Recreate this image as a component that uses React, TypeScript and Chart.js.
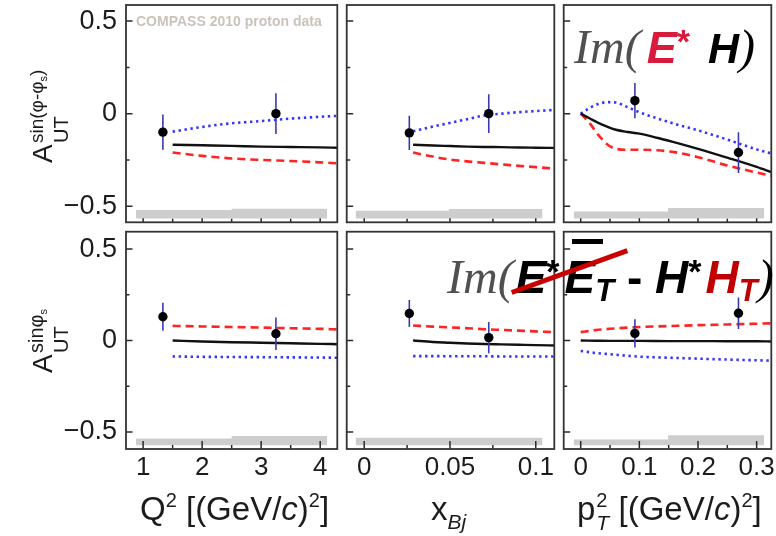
import React, { useEffect, useRef } from 'react';
import { Chart, registerables } from 'chart.js';

Chart.register(...registerables);

const FONT = '"Liberation Sans", Arial, Helvetica, sans-serif';
const SERIF = '"Liberation Serif", "Times New Roman", serif';

// ---------- axis ranges & ticks ----------
const qRange = [0.71, 4.29];
const xRange = [-0.0102, 0.1108];
const pRange = [-0.029, 0.325];
const yRangeTop = [-0.587, 0.587];
const yRangeBottom = [-0.593, 0.595];

const qTicks = [1, 2, 3, 4];
const qTickLabels = ['1', '2', '3', '4'];
const qMinor = [1.5, 2.5, 3.5];
const xTicks = [0, 0.05, 0.1];
const xTickLabels = ['0', '0.05', '0.1'];
const xMinor = [0.025, 0.075];
const pTicks = [0, 0.1, 0.2, 0.3];
const pTickLabels = ['0', '0.1', '0.2', '0.3'];
const pMinor = [0.05, 0.15, 0.25];
const yTicks = [-0.5, 0, 0.5];
const yTickLabels = ['\u22120.5', '0', '0.5'];
const yMinor = [-0.25, 0.25];

// ---------- data points (COMPASS 2010 proton) ----------
const qPts = [1.335, 3.25];
const xPts = [0.0263, 0.0726];
const pPts = [0.0924, 0.269];

// A_UT^{sin(phi-phi_s)}
const topQY = [-0.10, 0.0];
const topQErr = [0.095, 0.11];
const topXY = [-0.104, 0.0];
const topXErr = [0.093, 0.105];
const topPY = [0.07, -0.21];
const topPErr = [0.095, 0.11];

// A_UT^{sin phi_s}
const botQY = [0.13, 0.037];
const botQErr = [0.076, 0.089];
const botXY = [0.148, 0.016];
const botXErr = [0.074, 0.085];
const botPY = [0.039, 0.149];
const botPErr = [0.077, 0.086];

// ---------- model curves ----------
const qCurveX = [1.5, 2.0, 2.5, 3.0, 3.5, 4.0, 4.29];
const topQBlack = [-0.168, -0.171, -0.174, -0.178, -0.18, -0.182, -0.184];
const topQRed = [-0.21, -0.228, -0.242, -0.25, -0.256, -0.263, -0.268];
const topQBlue = [-0.097, -0.072, -0.052, -0.04, -0.027, -0.017, -0.012];
const botQBlack = [0.0, -0.005, -0.009, -0.012, -0.015, -0.018, -0.02];
const botQRed = [0.08, 0.077, 0.074, 0.071, 0.067, 0.064, 0.061];
const botQBlue = [-0.087, -0.089, -0.09, -0.091, -0.092, -0.093, -0.094];

const xCurveX = [0.0285, 0.04, 0.05, 0.06, 0.07, 0.08, 0.09, 0.1, 0.1108];
const topXBlack = [-0.168, -0.172, -0.175, -0.178, -0.18, -0.181, -0.183, -0.184, -0.185];
const topXRed = [-0.21, -0.232, -0.248, -0.258, -0.266, -0.274, -0.282, -0.289, -0.297];
const topXBlue = [-0.095, -0.07, -0.05, -0.03, -0.01, 0.0, 0.008, 0.014, 0.02];
const botXBlack = [0.0, -0.008, -0.012, -0.016, -0.019, -0.021, -0.023, -0.025, -0.027];
const botXRed = [0.082, 0.076, 0.072, 0.067, 0.062, 0.058, 0.054, 0.05, 0.046];
const botXBlue = [-0.085, -0.085, -0.086, -0.086, -0.086, -0.087, -0.087, -0.087, -0.087];

const pCurveXTop = [0, 0.015, 0.03, 0.045, 0.06, 0.08, 0.1, 0.13, 0.16, 0.2, 0.25, 0.3, 0.325];
const topPBlack = [0, -0.025, -0.05, -0.07, -0.087, -0.099, -0.108, -0.13, -0.155, -0.19, -0.238, -0.288, -0.316];
const topPRed = [0, -0.05, -0.115, -0.165, -0.19, -0.195, -0.195, -0.198, -0.208, -0.235, -0.28, -0.318, -0.335];
const topPBlue = [0, 0.03, 0.052, 0.062, 0.06, 0.035, 0.008, -0.025, -0.055, -0.09, -0.14, -0.193, -0.215];
const pCurveXBot = [0, 0.025, 0.05, 0.1, 0.15, 0.2, 0.25, 0.3, 0.325];
const botPBlack = [0, -0.001, -0.002, -0.002, -0.003, -0.003, -0.004, -0.004, -0.005];
const botPRed = [0.046, 0.057, 0.064, 0.074, 0.079, 0.084, 0.088, 0.092, 0.094];
const botPBlue = [-0.057, -0.068, -0.075, -0.088, -0.094, -0.099, -0.104, -0.108, -0.11];

// ---------- systematic bands ----------
const qBandEdges = [0.876, 2.5, 4.12];
const xBandEdges = [-0.005, 0.0494, 0.1039];
const pBandEdges = [-0.012, 0.149, 0.313];
const qBandTopT = [-0.52, -0.514];
const xBandTopT = [-0.524, -0.515];
const pBandTopT = [-0.529, -0.51];
const qBandTopB = [-0.535, -0.522];
const xBandTopB = [-0.531, -0.531];
const pBandTopB = [-0.541, -0.518];
const bandFloorTop = -0.566;
const bandFloorBot = -0.572;

type Cfg = any;

const panels: Cfg[] = [
  { left: 0, top: 0, w: 342, h: 227, pad: { left: 0, top: 5, right: 0, bottom: 0 }, showY: true, showX: false,
    xr: qRange, yr: yRangeTop, xT: qTicks, xL: qTickLabels, xM: qMinor,
    cx: qCurveX, black: topQBlack, red: topQRed, blue: topQBlue, px: qPts, py: topQY, pe: topQErr,
    be: qBandEdges, bt: qBandTopT, bf: bandFloorTop, tMaj: 4, tMin: 3.5 },
  { left: 342, top: 0, w: 217, h: 227, pad: { left: 0, top: 5, right: 0, bottom: 0 }, showY: false, showX: false,
    xr: xRange, yr: yRangeTop, xT: xTicks, xL: xTickLabels, xM: xMinor,
    cx: xCurveX, black: topXBlack, red: topXRed, blue: topXBlue, px: xPts, py: topXY, pe: topXErr,
    be: xBandEdges, bt: xBandTopT, bf: bandFloorTop, tMaj: 4, tMin: 3.5 },
  { left: 559, top: 0, w: 217, h: 227, pad: { left: 0, top: 5, right: 2, bottom: 0 }, showY: false, showX: false,
    xr: pRange, yr: yRangeTop, xT: pTicks, xL: pTickLabels, xM: pMinor,
    cx: pCurveXTop, black: topPBlack, red: topPRed, blue: topPBlue, px: pPts, py: topPY, pe: topPErr,
    be: pBandEdges, bt: pBandTopT, bf: bandFloorTop, tMaj: 4, tMin: 3.5 },
  { left: 0, top: 227, w: 342, h: 309, pad: { left: 0, top: 0, right: 0, bottom: 0 }, showY: true, showX: true,
    xr: qRange, yr: yRangeBottom, xT: qTicks, xL: qTickLabels, xM: qMinor,
    cx: qCurveX, black: botQBlack, red: botQRed, blue: botQBlue, px: qPts, py: botQY, pe: botQErr,
    be: qBandEdges, bt: qBandTopB, bf: bandFloorBot, tMaj: 8, tMin: 4 },
  { left: 342, top: 227, w: 217, h: 309, pad: { left: 0, top: 0, right: 0, bottom: 0 }, showY: false, showX: true,
    xr: xRange, yr: yRangeBottom, xT: xTicks, xL: xTickLabels, xM: xMinor,
    cx: xCurveX, black: botXBlack, red: botXRed, blue: botXBlue, px: xPts, py: botXY, pe: botXErr,
    be: xBandEdges, bt: xBandTopB, bf: bandFloorBot, tMaj: 8, tMin: 4 },
  { left: 559, top: 227, w: 217, h: 309, pad: { left: 0, top: 0, right: 2, bottom: 0 }, showY: false, showX: true,
    xr: pRange, yr: yRangeBottom, xT: pTicks, xL: pTickLabels, xM: pMinor,
    cx: pCurveXBot, black: botPBlack, red: botPRed, blue: botPBlue, px: pPts, py: botPY, pe: botPErr,
    be: pBandEdges, bt: pBandTopB, bf: bandFloorBot, tMaj: 8, tMin: 4 },
];

function buildChart(canvas: HTMLCanvasElement, cfg: Cfg) {
  const datasets: any[] = [];
  datasets.push({
    data: [
      { x: cfg.be[0], y: cfg.bt[0] },
      { x: cfg.be[1], y: cfg.bt[1] },
      { x: cfg.be[2], y: cfg.bt[1] },
    ],
    stepped: true,
    fill: { value: cfg.bf },
    backgroundColor: '#cdcdcd',
    borderWidth: 0,
    pointRadius: 0,
    order: 6,
  });
  const curve = (ys: number[], color: string, dash: number[], width: number, order: number) => ({
    data: cfg.cx.map((x: number, i: number) => ({ x, y: ys[i] })),
    borderColor: color,
    borderWidth: width,
    borderDash: dash,
    borderCapStyle: 'butt',
    pointRadius: 0,
    fill: false,
    cubicInterpolationMode: 'monotone',
    order,
  });
  datasets.push(curve(cfg.red, '#ff2424', [8, 5], 2.6, 4));
  datasets.push(curve(cfg.blue, '#3434ff', [2.4, 3.6], 2.6, 4));
  datasets.push(curve(cfg.black, '#111111', [], 2.4, 3));
  cfg.px.forEach((x: number, i: number) => {
    datasets.push({
      data: [
        { x, y: cfg.py[i] - cfg.pe[i] },
        { x, y: cfg.py[i] + cfg.pe[i] },
      ],
      borderColor: '#3a3aae',
      borderWidth: 1.6,
      pointRadius: 0,
      fill: false,
      order: 1,
    });
  });
  datasets.push({
    data: cfg.px.map((x: number, i: number) => ({ x, y: cfg.py[i] })),
    showLine: false,
    pointRadius: 4.7,
    pointBackgroundColor: '#000',
    pointBorderColor: '#000',
    pointBorderWidth: 0,
    order: 0,
  });

  const framePlugin = {
    id: 'frameTicks',
    afterDatasetsDraw(chart: any) {
      const { ctx, chartArea: a, scales } = chart;
      const xs = scales.x;
      const ys = scales.y;
      ctx.save();
      ctx.strokeStyle = '#2a2a2a';
      ctx.lineWidth = 1.5;
      ctx.beginPath();
      yTicks.forEach((v) => {
        const p = ys.getPixelForValue(v);
        ctx.moveTo(a.left, p);
        ctx.lineTo(a.left + 6.5, p);
      });
      yMinor.forEach((v) => {
        const p = ys.getPixelForValue(v);
        ctx.moveTo(a.left, p);
        ctx.lineTo(a.left + 3.5, p);
      });
      cfg.xT.forEach((v: number) => {
        const p = xs.getPixelForValue(v);
        ctx.moveTo(p, a.bottom);
        ctx.lineTo(p, a.bottom - cfg.tMaj);
      });
      cfg.xM.forEach((v: number) => {
        const p = xs.getPixelForValue(v);
        ctx.moveTo(p, a.bottom);
        ctx.lineTo(p, a.bottom - cfg.tMin);
      });
      ctx.stroke();
      ctx.lineWidth = 1.8;
      ctx.strokeStyle = '#333333';
      ctx.strokeRect(a.left, a.top, a.right - a.left, a.bottom - a.top);
      ctx.restore();
    },
  };

  return new Chart(canvas, {
    type: 'line',
    data: { datasets },
    options: {
      animation: false,
      responsive: false,
      events: [],
      layout: { padding: cfg.pad },
      plugins: { legend: { display: false }, tooltip: { enabled: false }, title: { display: false } },
      scales: {
        x: {
          type: 'linear',
          min: cfg.xr[0],
          max: cfg.xr[1],
          display: cfg.showX,
          grid: { display: false, drawTicks: false },
          border: { display: false },
          afterBuildTicks: (s: any) => {
            s.ticks = cfg.xT.map((v: number) => ({ value: v }));
          },
          afterFit: (s: any) => {
            if (!cfg.showX) return;
            s.height = 87;
            s.paddingLeft = 0;
            s.paddingRight = 0;
          },
          ticks: {
            autoSkip: false,
            maxRotation: 0,
            minRotation: 0,
            padding: 3,
            color: '#1c1c1c',
            font: { family: FONT, size: 26 },
            callback: (_v: any, i: number) => cfg.xL[i],
          },
        },
        y: {
          type: 'linear',
          min: cfg.yr[0],
          max: cfg.yr[1],
          display: cfg.showY,
          grid: { display: false, drawTicks: false },
          border: { display: false },
          afterBuildTicks: (s: any) => {
            s.ticks = yTicks.map((v) => ({ value: v }));
          },
          afterFit: (s: any) => {
            if (!cfg.showY) return;
            s.width = 126;
            s.paddingTop = 0;
            s.paddingBottom = 0;
          },
          ticks: {
            autoSkip: false,
            padding: 9,
            color: '#1c1c1c',
            font: { family: FONT, size: 27 },
            callback: (_v: any, i: number) => yTickLabels[i],
          },
        },
      },
    } as any,
    plugins: [framePlugin],
  } as any);
}

function Panel({ cfg }: { cfg: Cfg }) {
  const ref = useRef<HTMLCanvasElement>(null);
  useEffect(() => {
    const chart = buildChart(ref.current as HTMLCanvasElement, cfg);
    return () => chart.destroy();
  }, []);
  return (
    <canvas
      ref={ref}
      width={cfg.w}
      height={cfg.h}
      style={{ position: 'absolute', left: cfg.left, top: cfg.top, width: cfg.w, height: cfg.h }}
    />
  );
}

const abs = (s: any) => ({ position: 'absolute', whiteSpace: 'nowrap', ...s });
const sansBI = (size: number, color: string, extra: any = {}) => ({
  fontFamily: FONT, fontWeight: 700, fontStyle: 'italic', fontSize: size, color, ...extra,
});
const supS: any = { fontSize: 20, position: 'relative', top: -13, verticalAlign: 'baseline' };

function YTitle({ x, y, sup, long }: { x: number; y: number; sup: React.ReactNode; long: boolean }) {
  const sf = long ? 19 : 20;
  return (
    <div style={abs({ left: x, top: y, width: 0, height: 0, transformOrigin: '0 0', transform: 'rotate(-90deg)', fontFamily: FONT, color: '#1c1c1c' })}>
      <span style={abs({ left: 0, top: 43 - 0.8465 * 28, fontSize: 28, lineHeight: '28px' })}>A</span>
      <span style={abs({ left: 20, top: 58 - 0.8465 * 20, fontSize: 20, lineHeight: '20px' })}>UT</span>
      <span style={abs({ left: 20, top: 33 - 0.8465 * sf, fontSize: sf, lineHeight: sf + 'px' })}>{sup}</span>
    </div>
  );
}

export default function App() {
  const subS: any = { fontSize: 11, position: 'relative', top: 4, verticalAlign: 'baseline' };
  return (
    <div style={{ position: 'absolute', left: 0, top: 0, width: 776, height: 536, background: '#fff', overflow: 'hidden' }}>
      {panels.map((p, i) => (
        <Panel key={i} cfg={p} />
      ))}

      <div style={abs({ left: 136, top: 14, fontFamily: FONT, fontWeight: 700, fontSize: 14, lineHeight: '14px', color: '#cbc3bb' })}>
        COMPASS 2010 proton data
      </div>

      <YTitle x={10} y={163} long={true} sup={<>sin(φ-φ<span style={subS}>s</span>)</>} />
      <YTitle x={10} y={373} long={false} sup={<>sinφ<span style={subS}>s</span></>} />

      {/* x axis titles */}
      <div style={abs({ left: 140, top: 491, fontFamily: FONT, fontSize: 33, lineHeight: '36px', color: '#1c1c1c' })}>
        Q<span style={supS}>2</span> [(GeV/<i>c</i>)<span style={supS}>2</span>]
      </div>
      <div style={abs({ left: 431, top: 491, fontFamily: FONT, fontSize: 33, lineHeight: '36px', color: '#1c1c1c' })}>
        x<span style={{ fontSize: 21, fontStyle: 'italic', position: 'relative', top: 9, verticalAlign: 'baseline' }}>Bj</span>
      </div>
      <div style={abs({ left: 577, top: 491, fontFamily: FONT, fontSize: 33, lineHeight: '36px', color: '#1c1c1c' })}>
        p
        <span style={{ position: 'relative', display: 'inline-block', width: 14 }}>
          <span style={abs({ left: 1, top: -30, fontSize: 20, lineHeight: '20px' })}>2</span>
          <span style={abs({ left: 1, top: -8, fontSize: 21, lineHeight: '21px', fontStyle: 'italic' })}>T</span>
        </span>
        {' '}[(GeV/<i>c</i>)<span style={supS}>2</span>]
      </div>

      {/* annotation top right */}
      <div style={abs({ left: 574, top: 23, fontFamily: SERIF, fontSize: 48, lineHeight: '48px' })}>
        <span style={{ fontStyle: 'italic', color: '#505050' }}>Im(</span>
        <span style={sansBI(45, '#d81b3c', { marginLeft: 6 })}>E</span>
        <span style={sansBI(34, '#d81b3c', { fontStyle: 'normal', position: 'relative', top: -10 })}>*</span>
        <span style={sansBI(43, '#000', { marginLeft: 18 })}>H</span>
        <span style={{ fontStyle: 'italic', color: '#000' }}>)</span>
      </div>

      {/* annotation bottom */}
      <div style={abs({ left: 447, top: 253, fontFamily: SERIF, fontSize: 48, lineHeight: '48px' })}>
        <span style={{ fontStyle: 'italic', color: '#505050' }}>Im(</span>
        <span style={sansBI(46, '#000', { marginLeft: 2 })}>E</span>
        <span style={sansBI(34, '#000', { fontStyle: 'normal', position: 'relative', top: -10 })}>*</span>
        <span style={sansBI(46, '#000', { marginLeft: 5 })}>E</span>
        <span style={sansBI(31, '#000', { position: 'relative', top: 8 })}>T</span>
        <span style={sansBI(46, '#000', { fontStyle: 'normal' })}> - </span>
        <span style={sansBI(46, '#000')}>H</span>
        <span style={sansBI(34, '#000', { fontStyle: 'normal', position: 'relative', top: -10 })}>*</span>
        <span style={sansBI(46, '#c00000', { marginLeft: 4 })}>H</span>
        <span style={sansBI(31, '#c00000', { position: 'relative', top: 8 })}>T</span>
        <span style={{ fontStyle: 'italic', color: '#000' }}>)</span>
      </div>
      <div style={abs({ left: 572, top: 239, width: 31, height: 5, background: '#000' })} />
      <div style={abs({ left: 508.3, top: 268.5, width: 123.4, height: 5, background: '#c80000', transform: 'rotate(-19.9deg)' })} />
    </div>
  );
}
